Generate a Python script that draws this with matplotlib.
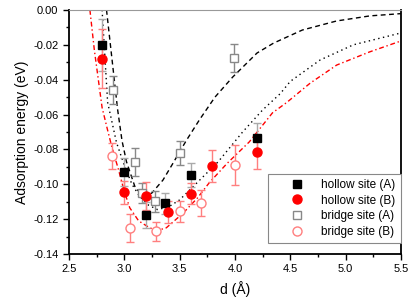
import numpy as np
import matplotlib
matplotlib.use("Agg")
import matplotlib.pyplot as plt
from matplotlib.ticker import MultipleLocator

plt.rcParams['font.family'] = ['Liberation Sans', 'DejaVu Sans']

# measured points
hA_x = [2.8, 3.0, 3.2, 3.37, 3.6, 4.2]
hA_y = [-0.020, -0.093, -0.1177, -0.111, -0.0948, -0.0734]
hA_e = [0.015, 0.008, 0.0075, 0.006, 0.007, 0.0086]

hB_x = [2.8, 3.0, 3.2, 3.4, 3.6, 3.79, 4.2]
hB_y = [-0.028, -0.1046, -0.1066, -0.116, -0.1055, -0.0895, -0.0815]
hB_e = [0.017, 0.0065, 0.008, 0.0065, 0.006, 0.009, 0.01]

bA_x = [2.9, 3.1, 3.16, 3.28, 3.5, 3.99]
bA_y = [-0.046, -0.087, -0.105, -0.1097, -0.082, -0.0275]
bA_e = [0.008, 0.008, 0.006, 0.006, 0.007, 0.008]

bB_x = [2.89, 3.05, 3.29, 3.5, 3.69, 4.0]
bB_y = [-0.0838, -0.125, -0.127, -0.1155, -0.1108, -0.089]
bB_e = [0.0075, 0.008, 0.0055, 0.006, 0.0075, 0.0115]

# fitted curves
fitA_x = [2.84, 2.94, 2.98, 3.02, 3.1, 3.18, 3.25, 3.35, 3.44, 3.56, 3.68, 3.82, 3.98,
          4.2, 4.35, 4.61, 4.92, 5.22, 5.5]
fitA_y = [0.0, -0.057, -0.075, -0.087, -0.102, -0.107, -0.105, -0.0976, -0.088, -0.075,
          -0.063, -0.050, -0.0385, -0.0247, -0.019, -0.0115, -0.0063, -0.0034, -0.0021]

fitH_x = [2.80, 2.85, 2.93, 3.0, 3.07, 3.14, 3.22, 3.3, 3.4, 3.5, 3.66, 3.85, 4.07,
          4.25, 4.41, 4.5, 4.77, 5.07, 5.5]
fitH_y = [0.0, -0.053, -0.076, -0.089, -0.100, -0.107, -0.112, -0.1145, -0.113, -0.109,
          -0.099, -0.087, -0.070, -0.0574, -0.048, -0.041, -0.0287, -0.020, -0.0132]

fitB_x = [2.69, 2.73, 2.8, 2.85, 2.89, 2.95, 3.0, 3.05, 3.13, 3.23, 3.3, 3.38, 3.53,
          3.66, 3.77, 3.93, 4.13, 4.34, 4.47, 4.68, 4.92, 5.22, 5.5]
fitB_y = [0.0, -0.023, -0.056, -0.069, -0.079, -0.092, -0.104, -0.1135, -0.121, -0.125,
          -0.1265, -0.125, -0.1167, -0.108, -0.099, -0.088, -0.0757, -0.059, -0.053,
          -0.042, -0.0316, -0.024, -0.0178]

fig = plt.figure(figsize=(4.15, 3.02), dpi=100)
ax = fig.add_axes([0.166, 0.159, 0.8, 0.808])

ax.plot(fitA_x, fitA_y, color='black', ls=(0, (3.5, 2.5)), lw=1.0)
ax.plot(fitH_x, fitH_y, color='black', ls=(0, (1, 2.5)), lw=1.0)
ax.plot(fitB_x, fitB_y, color='red', ls=(0, (3.5, 2, 1, 2)), lw=1.0)

gray = '#888888'
pink = '#ff7f7f'
ax.errorbar(bA_x, bA_y, yerr=bA_e, fmt='s', ms=5.5, mfc='white', mec=gray, mew=1.0,
            ecolor=gray, elinewidth=1.0, capsize=3, capthick=1.0, label='bridge site (A)')
ax.errorbar(bB_x, bB_y, yerr=bB_e, fmt='o', ms=6.5, mfc='white', mec=pink, mew=1.0,
            ecolor=pink, elinewidth=1.0, capsize=3, capthick=1.0, label='bridge site (B)')
ax.errorbar(hA_x, hA_y, yerr=hA_e, fmt='s', ms=5.5, mfc='black', mec='black',
            ecolor='#aaaaaa', elinewidth=1.0, capsize=3, capthick=1.0, label='hollow site (A)')
ax.errorbar(hB_x, hB_y, yerr=hB_e, fmt='o', ms=6.5, mfc='red', mec='red',
            ecolor=pink, elinewidth=1.0, capsize=3, capthick=1.0, label='hollow site (B)')

ax.set_xlim(2.5, 5.5)
ax.set_ylim(-0.14, 0.0)
ax.xaxis.set_major_locator(MultipleLocator(0.5))
ax.xaxis.set_minor_locator(MultipleLocator(0.25))
ax.yaxis.set_major_locator(MultipleLocator(0.02))
ax.yaxis.set_minor_locator(MultipleLocator(0.01))
ax.yaxis.set_major_formatter(matplotlib.ticker.FormatStrFormatter('%.2f'))
ax.tick_params(which='both', direction='out', top=False, right=False, labelsize=8)
ax.tick_params(which='major', length=4, width=1)
ax.tick_params(which='minor', length=2, width=1)

for s in ['left', 'bottom', 'right']:
    ax.spines[s].set_linewidth(1.3)
ax.spines['top'].set_color('#999999')
ax.spines['top'].set_linewidth(0.8)

ax.set_xlabel('d (Å)', fontsize=10, labelpad=5)
ax.set_ylabel('Adsorption energy (eV)', fontsize=10, labelpad=3)

handles, labels = ax.get_legend_handles_labels()
order = [2, 3, 0, 1]
leg = ax.legend([handles[i][0] for i in order], [labels[i] for i in order],
                loc='lower right', bbox_to_anchor=(1.0, 0.045), borderaxespad=0,
                fontsize=8.5, fancybox=False, edgecolor='#888888', framealpha=1,
                handletextpad=0.1, borderpad=0.45, labelspacing=0.3, handlelength=4.0)
leg.get_frame().set_linewidth(0.8)

fig.savefig('out.png', dpi=100)
